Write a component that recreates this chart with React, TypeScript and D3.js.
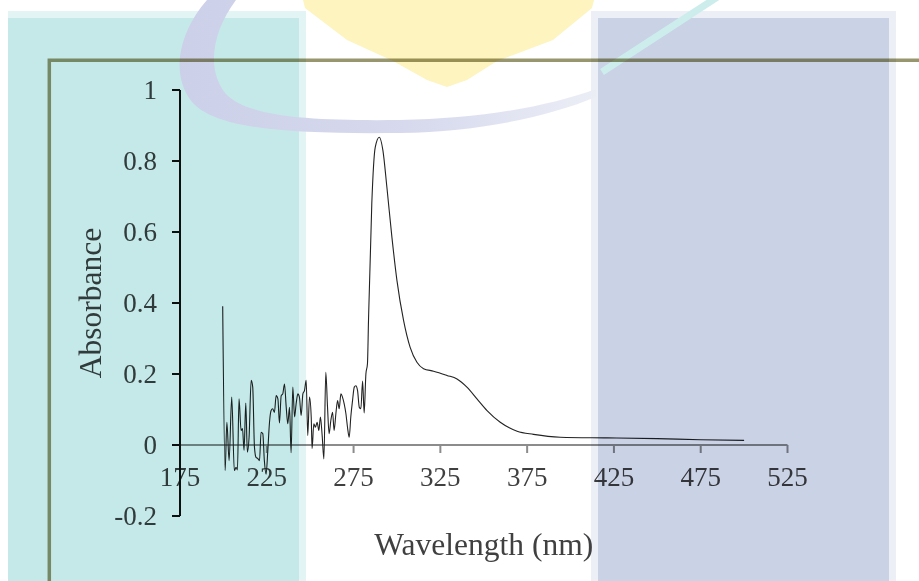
import React from 'react';
import * as d3 from 'd3';

// Spectrum (wavelength in nm, absorbance)
const wavelengths = [
  199.6, 201.0, 202.0, 203.3, 204.8, 206.3, 207.3, 208.1, 209.0, 210.2, 211.0, 211.9, 212.9, 213.8, 214.8,
  216.0, 216.9, 217.9, 218.8, 219.8, 220.8, 221.7, 222.7, 223.6, 224.6, 225.6, 226.5, 227.5, 228.4, 229.4,
  230.4, 231.4, 232.3, 233.3, 234.2, 235.2, 236.2, 237.1, 238.1, 239.0, 240.0, 241.0, 241.9, 242.9, 243.8,
  244.8, 245.8, 246.7, 247.7, 248.6, 249.6, 250.6, 251.1, 252.1, 253.0, 254.0, 255.0, 255.9, 256.9, 257.9,
  259.0, 260.0, 260.9, 261.9, 262.9, 263.8, 264.8, 265.8, 266.7, 267.7, 268.6, 269.6, 270.6, 271.5, 272.5,
  273.4, 274.4, 275.4, 276.3, 277.3, 278.3, 279.2, 280.2, 281.1, 282.1, 283.0,
  283.6, 285.5, 287.5, 289.8, 291.9, 294.2, 297.1, 300.0, 303.8, 307.6, 311.5, 315.3, 321.1, 328.8,
  334.6, 340.3, 346.1, 351.9, 359.5, 369.2, 378.7, 394.1, 421.0, 450.0, 475.0, 500.0,
];
const absorbance = [
  0.391, -0.072, 0.064, -0.044, 0.135, -0.072, -0.063, -0.07, 0.130, 0.041, 0.046, -0.015, 0.118, -0.020, 0.022,
  0.182, 0.163, -0.006, -0.035, -0.038, -0.044, 0.036, 0.032, -0.044, -0.082, -0.015, 0.060, 0.097, 0.102, 0.092,
  0.139, 0.130, 0.062, 0.139, 0.144, 0.172, 0.106, 0.060, 0.106, -0.022, 0.163, 0.079, 0.116, 0.144, 0.135,
  0.083, 0.144, 0.153, 0.182, 0.027, 0.135, 0.079, -0.010, 0.060, 0.050, 0.064, 0.041, 0.079, 0.027, -0.039,
  0.205, 0.106, 0.032, 0.069, 0.092, 0.041, 0.088, 0.125, 0.102, 0.144, 0.135, 0.116, 0.088, 0.050, 0.022,
  0.079, 0.125, 0.163, 0.167, 0.153, 0.106, 0.102, 0.180, 0.090, 0.200, 0.229,
  0.35, 0.68, 0.839, 0.867, 0.83, 0.726, 0.585, 0.463, 0.351, 0.275, 0.233, 0.215, 0.208, 0.196,
  0.186, 0.163, 0.130, 0.097, 0.064, 0.039, 0.030, 0.022, 0.020, 0.018, 0.015, 0.013,
];

const xTicks = [175, 225, 275, 325, 375, 425, 475, 525];
const yTicks = [-0.2, 0, 0.2, 0.4, 0.6, 0.8, 1];
const yTickLabels = ['-0.2', '0', '0.2', '0.4', '0.6', '0.8', '1'];
const xTitle = 'Wavelength (nm)';
const yTitle = 'Absorbance';

const FONT = "'Liberation Serif', 'Times New Roman', serif";

export default function App() {
  const W = 919;
  const H = 581;
  const x = d3.scaleLinear().domain([175, 525]).range([180, 787.5]);
  const y = d3.scaleLinear().domain([-0.2, 1]).range([516, 90]);
  const pts: [number, number][] = wavelengths.map((w, i) => [w, absorbance[i]]);
  const line = d3
    .line<[number, number]>()
    .x((d) => x(d[0]))
    .y((d) => y(d[1]))
    .curve(d3.curveMonotoneX);

  const y0 = y(0);

  return (
    <svg
      width={W}
      height={H}
      viewBox={`0 0 ${W} ${H}`}
      style={{ position: 'absolute', left: 0, top: 0, display: 'block' }}
    >
      <defs>
        <linearGradient id="arcGrad" gradientUnits="userSpaceOnUse" x1={170} y1={0} x2={600} y2={0}>
          <stop offset="0" stopColor="#cbcfe8" />
          <stop offset="0.6" stopColor="#d8dbee" />
          <stop offset="1" stopColor="#eceef6" />
        </linearGradient>
      </defs>
      <rect x={0} y={0} width={W} height={H} fill="#ffffff" />

      {/* watermark layer */}
      <g>
        <rect x={8} y={11} width={298} height={H - 11} fill="#e2f4f4" />
        <rect x={8} y={18} width={291} height={H - 18} fill="#c5e9e9" />
        <rect x={591} y={11} width={305} height={H - 11} fill="#eceff6" />
        <rect x={598} y={18} width={291} height={H - 18} fill="#cad2e5" />
        <path
          d="M303,0 L594,0 L592,8 L553,40 L497,61 L467,80 L447,87 L427,80 L393,61 L347,40 L305,8 Z"
          fill="#fdf4bf"
        />
        <path
          d="M207,0 C182,28 168,72 192,102 C217,131 300,134 400,133 C480,132 550,116 596,97 L596,89 C550,106 480,119 400,120 C310,121 248,117 226,94 C206,70 212,32 236,0 Z"
          fill="url(#arcGrad)"
        />
        <path d="M719,-4 L602,72" stroke="#cdeded" strokeWidth={7} fill="none" />
      </g>

      {/* chart layer */}
      <g style={{ mixBlendMode: 'multiply' }}>
        {/* frame */}
        <path d={`M49.3,${H} L49.3,60.3 L${W},60.3`} stroke="#98966e" strokeWidth={3.5} fill="none" />

        {/* x axis */}
        <line x1={x(175)} x2={x(525)} y1={y0} y2={y0} stroke="#8c8c8c" strokeWidth={2} />
        {xTicks.map((t) => (
          <g key={t}>
            <line x1={x(t)} x2={x(t)} y1={y0} y2={y0 + 8} stroke="#8c8c8c" strokeWidth={2} />
            <text
              x={x(t)}
              y={486}
              textAnchor="middle"
              fontFamily={FONT}
              fontSize={27}
              fill="#404040"
            >
              {t}
            </text>
          </g>
        ))}

        {/* y axis */}
        <line x1={180} x2={180} y1={y(1)} y2={y(-0.2)} stroke="#111" strokeWidth={2} />
        {yTicks.map((t, i) => (
          <g key={t}>
            <line x1={172} x2={180} y1={y(t)} y2={y(t)} stroke="#111" strokeWidth={2} />
            <text
              x={157}
              y={y(t) + 8.5}
              textAnchor="end"
              fontFamily={FONT}
              fontSize={27}
              fill="#404040"
            >
              {yTickLabels[i]}
            </text>
          </g>
        ))}

        {/* spectrum */}
        <path d={line(pts) || ''} fill="none" stroke="#222" strokeWidth={1.1} />

        {/* titles */}
        <text
          x={(x(175) + x(525)) / 2}
          y={555}
          textAnchor="middle"
          fontFamily={FONT}
          fontSize={31.5}
          fill="#404040"
        >
          {xTitle}
        </text>
        <text
          transform={`translate(101,${(y(1) + y(-0.2)) / 2}) rotate(-90)`}
          textAnchor="middle"
          fontFamily={FONT}
          fontSize={31.5}
          fill="#404040"
        >
          {yTitle}
        </text>
      </g>
    </svg>
  );
}
